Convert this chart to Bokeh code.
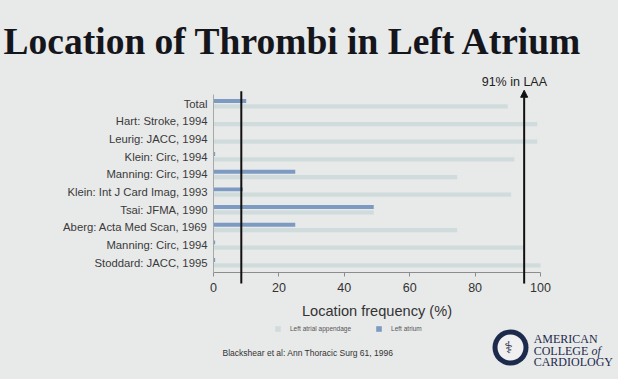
from bokeh.plotting import figure
from bokeh.models import (ColumnDataSource, Range1d, FixedTicker, Label, Arrow,
                          NormalHead, Legend, LegendItem, BoxAnnotation,
                          GlobalInlineStyleSheet)
from bokeh.transform import dodge
from bokeh.embed import file_html
from bokeh.resources import INLINE

# ---- data ----
categories = ["Total", "Hart: Stroke, 1994", "Leurig: JACC, 1994", "Klein: Circ, 1994",
              "Manning: Circ, 1994", "Klein: Int J Card Imag, 1993", "Tsai: JFMA, 1990",
              "Aberg: Acta Med Scan, 1969", "Manning: Circ, 1994", "Stoddard: JACC, 1995"]
laa = [90, 99, 99, 92, 74.5, 91, 49, 74.5, 95, 100]   # Left atrial appendage (%)
la = [10, 0, 0, 0.5, 25, 9, 49, 25, 0.5, 0.5]          # Left atrium (%)
x_ticks = [0, 20, 40, 60, 80, 100]
la_mark = 8.5
laa_mark = 95

n = len(categories)
ypos = [n - 1 - i for i in range(n)]
src = ColumnDataSource(dict(y=ypos, cat=categories, laa=laa, la=la))

BG = "#e8e9e9"
NAVY = "#1c2a4c"
p = figure(width=618, height=379, output_backend="svg", toolbar_location=None,
           x_range=Range1d(-65.14, 123.85), y_range=Range1d(-6.62, 14.83),
           min_border=0, background_fill_color=BG, border_fill_color=BG,
           outline_line_color=None)
p.stylesheets = [GlobalInlineStyleSheet(css="html, body { background: #e8e9e9; }")]
p.xgrid.visible = False
p.ygrid.visible = False

r_laa = p.hbar(y=dodge("y", -0.16), right="laa", left=0, height=0.24, source=src,
               fill_color="#d0dcdc", line_color=None)
r_la = p.hbar(y=dodge("y", 0.14), right="la", left=0, height=0.22, source=src,
              fill_color="#7d9bc2", line_color=None)

# x axis
xa = p.xaxis[0]
xa.fixed_location = -0.566
xa.bounds = (0, 100)
xa.ticker = FixedTicker(ticks=x_ticks)
xa.minor_tick_line_color = None
xa.axis_line_color = "#8c8c8c"
xa.major_tick_line_color = "#8c8c8c"
xa.major_tick_in = 0
xa.major_tick_out = 4
xa.major_label_text_font = "Liberation Sans"
xa.major_label_text_font_size = "12.5px"
xa.major_label_text_color = "#333333"
xa.major_label_standoff = 6
xa.axis_label = "Location frequency (%)"
xa.axis_label_text_font = "Liberation Sans"
xa.axis_label_text_font_size = "14.6px"
xa.axis_label_text_font_style = "normal"
xa.axis_label_text_color = "#333333"
xa.axis_label_standoff = 8

# y axis
ya = p.yaxis[0]
ya.fixed_location = 0
ya.bounds = (-0.57, 9.5)
ya.ticker = FixedTicker(ticks=ypos)
ya.major_label_overrides = {y: c for y, c in zip(ypos, categories)}
ya.major_tick_line_color = None
ya.major_tick_in = 0
ya.major_tick_out = 0
ya.minor_tick_line_color = None
ya.axis_line_color = "#a8a8a8"
ya.major_label_text_font = "Liberation Sans"
ya.major_label_text_font_size = "11.3px"
ya.major_label_text_color = "#3a3a3a"
ya.major_label_standoff = 6

# vertical marker lines
p.add_layout(Arrow(x_start=la_mark, y_start=-1.19, x_end=la_mark, y_end=9.7,
                   end=None, line_color="#111111", line_width=2))
p.add_layout(Arrow(x_start=laa_mark, y_start=-1.19, x_end=laa_mark, y_end=9.75,
                   end=NormalHead(size=7, fill_color="#111111", line_color="#111111"),
                   line_color="#111111", line_width=2))
p.add_layout(Label(x=92.0, y=10.22, text="91% in LAA", text_align="center",
                   text_baseline="middle", text_font="Liberation Sans",
                   text_font_size="12.5px", text_color="#222222"))

# title
p.add_layout(Label(x=-64.2, y=12.51, text="Location of Thrombi in Left Atrium",
                   text_font="Liberation Serif", text_font_style="bold",
                   text_font_size="37.5px", text_color="#15161c", text_baseline="middle"))

# citation
p.add_layout(Label(x=2.75, y=-5.12, text="Blackshear et al: Ann Thoracic Surg 61, 1996",
                   text_font="Liberation Sans", text_font_size="8.5px",
                   text_color="#333333", text_baseline="middle"))

# ACC logo (approximation)
p.add_layout(BoxAnnotation(left=85.32, right=96.33, top=-3.79, bottom=-5.83,
                           fill_color=NAVY, fill_alpha=1, line_color=None, border_radius=18))
p.add_layout(BoxAnnotation(left=86.85, right=94.8, top=-4.07, bottom=-5.55,
                           fill_color="#f0f0f0", fill_alpha=1, line_color=None, border_radius=13))
p.add_layout(Label(x=90.2, y=-4.81, text="\u2695", text_align="center", text_baseline="middle",
                   text_font="DejaVu Sans", text_font_size="16px", text_color=NAVY))
for txt, yy in [("AMERICAN", -4.30), ("COLLEGE", -4.98), ("CARDIOLOGY", -5.62)]:
    p.add_layout(Label(x=97.9, y=yy, text=txt, text_font="Liberation Serif",
                       text_font_size="12px", text_color=NAVY, text_baseline="middle"))
p.add_layout(Label(x=115.6, y=-4.98, text="of", text_font="Liberation Serif",
                   text_font_style="italic", text_font_size="12px", text_color=NAVY,
                   text_baseline="middle"))

# legend
legend = Legend(items=[LegendItem(label="Left atrial appendage", renderers=[r_laa]),
                       LegendItem(label="Left atrium", renderers=[r_la])],
                orientation="horizontal", location=(274, 47),
                label_text_font="Liberation Sans", label_text_font_size="6.5px",
                label_text_color="#555555", glyph_width=7, glyph_height=7,
                label_height=7, label_standoff=9, spacing=24, padding=0, margin=0,
                background_fill_alpha=0, border_line_alpha=0)
p.add_layout(legend, "center")

open("out.html", "w").write(file_html(p, INLINE))
